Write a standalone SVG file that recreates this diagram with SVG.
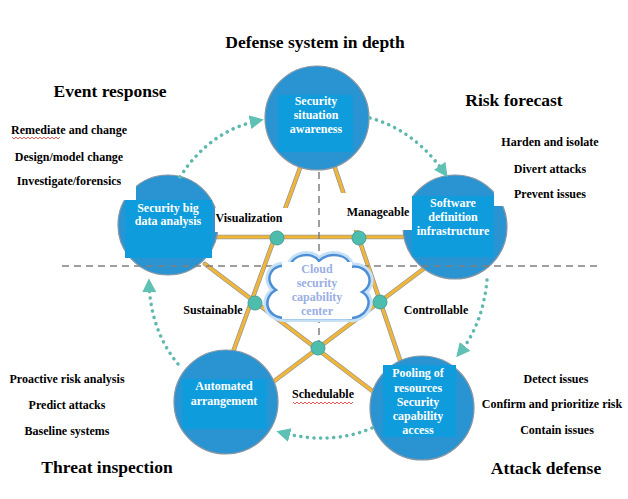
<svg xmlns="http://www.w3.org/2000/svg" width="628" height="499" viewBox="0 0 628 499">
<style>
.bg{fill:#ffffff}
.circ{fill:#2A94D2;stroke:#8796a2;stroke-width:1.2}
.sq{fill:#0E9CDC}
.ct{font-family:"Liberation Serif",serif;font-weight:bold;font-size:12px;fill:#ffffff;text-anchor:middle}
.lb{font-family:"Liberation Serif",serif;font-weight:bold;font-size:12px;fill:#000000;text-anchor:middle}
.tt{font-family:"Liberation Serif",serif;font-weight:bold;font-size:17.5px;fill:#000000;text-anchor:middle}
.cl{font-family:"Liberation Serif",serif;font-weight:bold;font-size:12px;fill:#9AAEE4;text-anchor:middle}
.yo{stroke:#9a9a9a;stroke-width:4.6;fill:none;stroke-linecap:round}
.yl{stroke:#F2B636;stroke-width:3;fill:none;stroke-linecap:round}
.dash{stroke:#7f7f7f;stroke-width:1.5;stroke-dasharray:7 5;fill:none}
.dot{stroke:#5FB8AE;stroke-width:3.5;stroke-dasharray:0.1 6.5;stroke-linecap:round;fill:none;marker-end:url(#ah)}
.nd{fill:#4DBDAE;stroke:#4a9f97;stroke-width:1}
.wb{fill:#ffffff}
.sq2{stroke:#e0312f;stroke-width:0.8;fill:none}
</style>
<defs>
<marker id="ah" viewBox="0 0 10 10" refX="8" refY="5" markerWidth="14" markerHeight="14" markerUnits="userSpaceOnUse" orient="auto">
<path d="M0,0 L10,5 L0,10 Z" fill="#5FC1B4"/>
</marker>
</defs>
<rect class="bg" x="0" y="0" width="628" height="499"/>

<g id="star-lines">
<line class="yo" x1="300" y1="168" x2="233" y2="352"/>
<line class="yo" x1="335" y1="168" x2="400" y2="360"/>
<line class="yo" x1="214" y1="237" x2="408" y2="237"/>
<line class="yo" x1="205" y1="264" x2="375" y2="393"/>
<line class="yo" x1="430" y1="264" x2="265" y2="388"/>
<line class="yl" x1="300" y1="168" x2="233" y2="352"/>
<line class="yl" x1="335" y1="168" x2="400" y2="360"/>
<line class="yl" x1="214" y1="237" x2="408" y2="237"/>
<line class="yl" x1="205" y1="264" x2="375" y2="393"/>
<line class="yl" x1="430" y1="264" x2="265" y2="388"/>
</g>

<g id="node-top">
<circle class="circ" cx="317" cy="118" r="52"/>
<rect class="sq" x="278" y="95" width="75" height="57"/>
<text class="ct" x="316" y="105">Security</text>
<text class="ct" x="316" y="119">situation</text>
<text class="ct" x="316" y="133">awareness</text>
</g>

<g id="node-left">
<circle class="circ" cx="168" cy="225" r="50"/>
<rect class="wb" x="100" y="165" width="36" height="35"/>
<rect class="sq" x="125" y="200" width="87" height="58"/>
<text class="ct" x="168" y="212">Security big</text>
<text class="ct" x="168" y="225">data analysis</text>
</g>

<g id="node-right">
<circle class="circ" cx="455" cy="227" r="52"/>
<rect class="wb" x="494" y="184" width="16" height="22"/>
<rect class="sq" x="412" y="196" width="82" height="61"/>
<text class="ct" x="453" y="207">Software</text>
<text class="ct" x="453" y="221">definition</text>
<text class="ct" x="453" y="235">infrastructure</text>
</g>

<g id="node-bottom-left">
<circle class="circ" cx="226" cy="402" r="52"/>
<rect class="sq" x="182" y="379" width="85" height="50"/>
<text class="ct" x="224" y="390">Automated</text>
<text class="ct" x="224" y="405">arrangement</text>
</g>

<g id="node-bottom-right">
<circle class="circ" cx="422" cy="408" r="52"/>
<rect class="sq" x="383" y="365" width="73" height="72"/>
<text class="ct" x="418" y="377">Pooling of</text>
<text class="ct" x="418" y="392">resources</text>
<text class="ct" x="418" y="406">Security</text>
<text class="ct" x="418" y="420">capability</text>
<text class="ct" x="418" y="434">access</text>
</g>

<g id="axes">
<line class="dash" x1="62" y1="266" x2="598" y2="266"/>
<line class="dash" x1="319" y1="172" x2="319" y2="350"/>
</g>

<g id="cloud">
<path d="M285,318 C265,318 262,297 276,290 C262,280 272,261 290,267 C292,254 312,251 319,261 C328,251 350,254 350,267 C368,263 377,284 362,292 C376,300 366,320 348,318 Z" fill="#ffffff" stroke="#C6E0F6" stroke-width="8"/>
<path d="M285,318 C265,318 262,297 276,290 C262,280 272,261 290,267 C292,254 312,251 319,261 C328,251 350,254 350,267 C368,263 377,284 362,292 C376,300 366,320 348,318 Z" fill="#ffffff" stroke="#4C8FD6" stroke-width="2.5"/>
<rect class="wb" x="282" y="262" width="70" height="57"/>
<text class="cl" x="317" y="273">Cloud</text>
<text class="cl" x="317" y="287">security</text>
<text class="cl" x="317" y="301">capability</text>
<text class="cl" x="317" y="315">center</text>
</g>

<g id="inner-labels">
<rect class="wb" x="215" y="208" width="85" height="24"/>
<text class="lb" x="249" y="222">Visualization</text>
<rect class="wb" x="340" y="193" width="72" height="37"/>
<text class="lb" x="378" y="216">Manageable</text>
<text class="lb" x="213" y="314">Sustainable</text>
<text class="lb" x="436" y="314">Controllable</text>
<text class="lb" x="323" y="398">Schedulable</text>
<path class="sq2" d="M293,402 l2,2 l2,-2 l2,2 l2,-2 l2,2 l2,-2 l2,2 l2,-2 l2,2 l2,-2 l2,2 l2,-2 l2,2 l2,-2 l2,2 l2,-2 l2,2 l2,-2 l2,2 l2,-2 l2,2 l2,-2 l2,2 l2,-2 l2,2 l2,-2 l2,2 l2,-2 l2,2 l2,-2"/>
</g>

<g id="pentagon-nodes">
<circle class="nd" cx="277" cy="238" r="7"/>
<circle class="nd" cx="359" cy="238" r="7"/>
<circle class="nd" cx="255" cy="303" r="7"/>
<circle class="nd" cx="380" cy="302" r="7"/>
<circle class="nd" cx="318" cy="348" r="7"/>
</g>

<g id="connectors">
<path class="dot" d="M370,118 Q415,130 446,175"/>
<path class="dot" d="M487,280 Q483,325 458,355"/>
<path class="dot" d="M372,428 Q330,446 279,432"/>
<path class="dot" d="M178,364 Q150,330 149,281"/>
<path class="dot" d="M180,177 Q210,130 261,120"/>
</g>

<g id="titles">
<text class="tt" x="315" y="48">Defense system in depth</text>
<text class="tt" x="110" y="97">Event response</text>
<text class="tt" x="514" y="106">Risk forecast</text>
<text class="tt" x="107" y="473">Threat inspection</text>
<text class="tt" x="546" y="474">Attack defense</text>
</g>

<g id="side-labels">
<text class="lb" x="69" y="134">Remediate and change</text>
<path class="sq2" d="M12,137 l2,2 l2,-2 l2,2 l2,-2 l2,2 l2,-2 l2,2 l2,-2 l2,2 l2,-2 l2,2 l2,-2 l2,2 l2,-2 l2,2 l2,-2 l2,2 l2,-2 l2,2 l2,-2 l2,2 l2,-2 l2,2 l2,-2"/>
<text class="lb" x="69" y="161">Design/model change</text>
<text class="lb" x="69" y="185">Investigate/forensics</text>
<text class="lb" x="550" y="146">Harden and isolate</text>
<text class="lb" x="550" y="173">Divert attacks</text>
<text class="lb" x="550" y="198">Prevent issues</text>
<text class="lb" x="67" y="383">Proactive risk analysis</text>
<text class="lb" x="67" y="409">Predict attacks</text>
<text class="lb" x="67" y="435">Baseline systems</text>
<text class="lb" x="556" y="383">Detect issues</text>
<text class="lb" x="552" y="408">Confirm and prioritize risk</text>
<text class="lb" x="557" y="434">Contain issues</text>
</g>
</svg>
